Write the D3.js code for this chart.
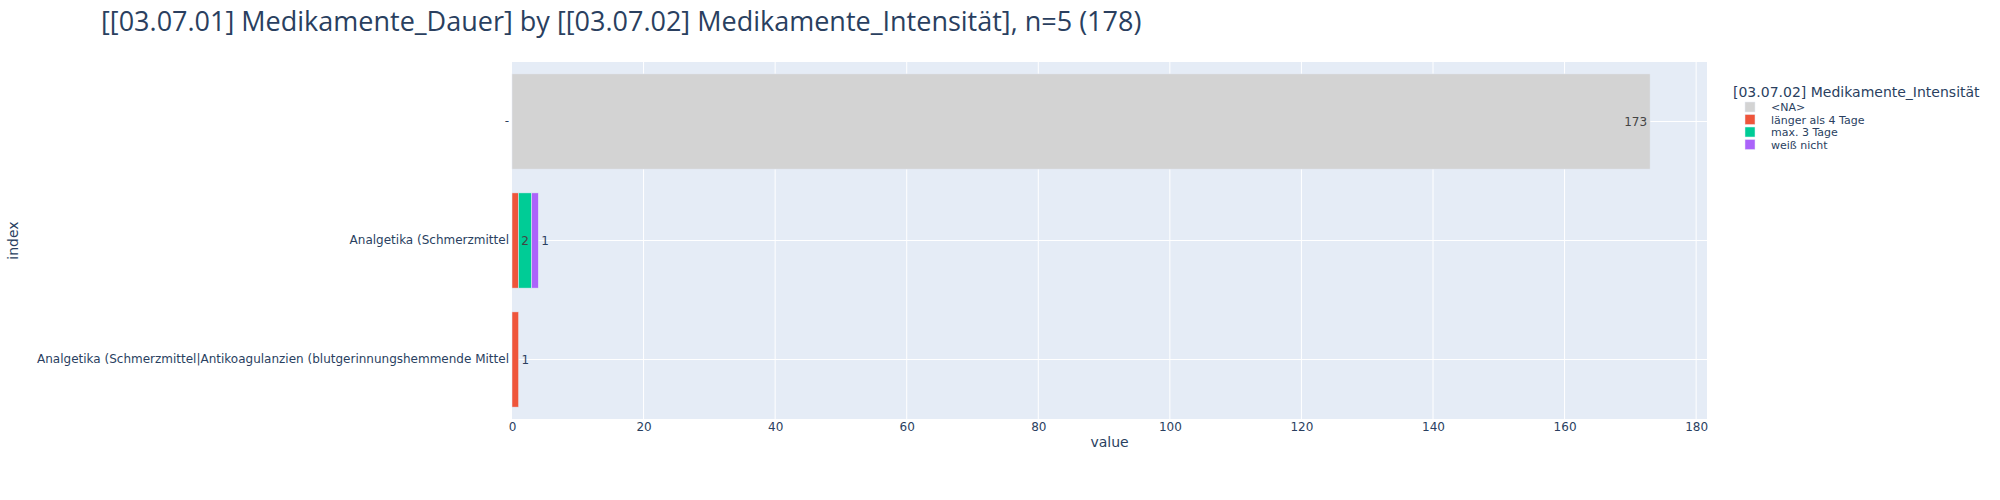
<!DOCTYPE html>
<html>
<head>
<meta charset="utf-8">
<script src="https://cdn.jsdelivr.net/npm/d3@7"></script>
<style>
  body { margin: 0; background: #fff; }
  text { font-family: "DejaVu Sans", "Noto Sans", sans-serif; fill: #2a3f5f; }
  .title { font-family: "Open Sans", "Noto Sans", sans-serif; }
</style>
</head>
<body>
<svg id="chart" width="2000" height="500"></svg>
<script>
// data
var categories = ["-", "Analgetika (Schmerzmittel", "Analgetika (Schmerzmittel|Antikoagulanzien (blutgerinnungshemmende Mittel"];
var seriesNames = ["<NA>", "länger als 4 Tage", "max. 3 Tage", "weiß nicht"];
var seriesColors = ["#D3D3D3", "#EF553B", "#00CC96", "#AB63FA"];
var naValues = [173, 0, 0];
var laengerValues = [0, 1, 1];
var max3Values = [0, 2, 0];
var weissValues = [0, 1, 0];
var xTicks = [0, 20, 40, 60, 80, 100, 120, 140, 160, 180];

var seriesValues = [naValues, laengerValues, max3Values, weissValues];

var svg = d3.select("#chart");
var m = { left: 512, right: 1707, top: 62, bottom: 419 };

var x = d3.scaleLinear().domain([0, 181.65]).range([m.left, m.right]);
var y = d3.scaleBand().domain(categories).range([m.top, m.bottom]).paddingInner(0.2).paddingOuter(0.1);

// title
svg.append("text").attr("class", "title").attr("x", 101).attr("y", 31)
  .style("font-size", "27px")
  .text("[[03.07.01] Medikamente_Dauer] by [[03.07.02] Medikamente_Intensität], n=5 (178)");

// plot background
svg.append("rect").attr("x", m.left).attr("y", m.top)
  .attr("width", m.right - m.left).attr("height", m.bottom - m.top)
  .attr("fill", "#E5ECF6");

// gridlines
svg.append("g").selectAll("line").data(xTicks.slice(1)).join("line")
  .attr("x1", d => x(d)).attr("x2", d => x(d))
  .attr("y1", m.top).attr("y2", m.bottom)
  .attr("stroke", "#fff").attr("stroke-width", 1);
svg.append("g").selectAll("line").data(categories).join("line")
  .attr("x1", m.left).attr("x2", m.right)
  .attr("y1", d => y(d) + y.bandwidth() / 2).attr("y2", d => y(d) + y.bandwidth() / 2)
  .attr("stroke", "#fff").attr("stroke-width", 1);

// x axis
var xAxis = d3.axisBottom(x).tickValues(xTicks).tickSize(0).tickPadding(3);
var gx = svg.append("g").attr("transform", "translate(0," + m.bottom + ")").call(xAxis);
gx.select(".domain").remove();
gx.selectAll("text").style("font-size", "12px").attr("fill", "#2a3f5f");

// y axis
var yAxis = d3.axisLeft(y).tickSize(0).tickPadding(3);
var gy = svg.append("g").attr("transform", "translate(" + m.left + ",0)").call(yAxis);
gy.select(".domain").remove();
gy.selectAll("text").style("font-size", "12px").attr("fill", "#2a3f5f");

// axis titles
svg.append("text").attr("x", (m.left + m.right) / 2).attr("y", 447)
  .attr("text-anchor", "middle").style("font-size", "14px").text("value");
svg.append("text").attr("transform", "translate(18," + ((m.top + m.bottom) / 2) + ") rotate(-90)")
  .attr("text-anchor", "middle").style("font-size", "14px").text("index");

// stacked bars
var bars = svg.append("g");
var labels = svg.append("g");
categories.forEach(function(cat, ci) {
  var base = 0;
  var lastSeries = -1;
  seriesValues.forEach(function(vals, si) { if (vals[ci] > 0) lastSeries = si; });
  seriesValues.forEach(function(vals, si) {
    var v = vals[ci];
    if (v <= 0) return;
    var x0 = x(base), x1 = x(base + v);
    bars.append("rect")
      .attr("x", x0).attr("y", y(cat))
      .attr("width", x1 - x0).attr("height", y.bandwidth())
      .attr("fill", seriesColors[si])
      .attr("stroke", "#E5ECF6").attr("stroke-width", 0.5);
    var cy = y(cat) + y.bandwidth() / 2 + 4;
    var txtW = String(v).length * 7 + 4;
    if (x1 - x0 >= txtW) {
      labels.append("text").attr("x", v > 20 ? x1 - 3 : (x0 + x1) / 2).attr("y", cy)
        .attr("text-anchor", v > 20 ? "end" : "middle")
        .style("font-size", "12px").style("fill", "#444").text(v);
    } else if (si === lastSeries) {
      labels.append("text").attr("x", x1 + 3).attr("y", cy)
        .style("font-size", "12px").text(v);
    }
    base += v;
  });
});

// legend
var lg = svg.append("g");
lg.append("text").attr("x", 1733).attr("y", 97).style("font-size", "14px")
  .text("[03.07.02] Medikamente_Intensität");
seriesNames.forEach(function(name, i) {
  var cy = 107 + i * 12.5;
  lg.append("rect").attr("x", 1745).attr("y", cy - 5).attr("width", 10).attr("height", 10)
    .attr("fill", seriesColors[i]).attr("stroke", "#E5ECF6").attr("stroke-width", 0.5);
  lg.append("text").attr("x", 1771).attr("y", cy + 4).style("font-size", "11px").text(name);
});
</script>
</body>
</html>
